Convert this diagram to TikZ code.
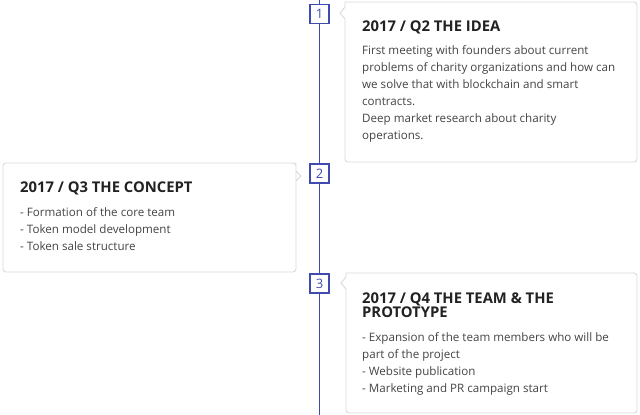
\documentclass[tikz,border=0pt]{standalone}
\usepackage{fontspec}
\setmainfont{Open Sans}
\definecolor{tlblue}{HTML}{3F4BAE}
\definecolor{cardgray}{HTML}{DADADA}
\definecolor{titlec}{HTML}{222222}
\definecolor{bodyc}{HTML}{444444}
\tikzset{
  numbox/.style={draw=tlblue, line width=1.6pt, fill=white, minimum width=19pt, minimum height=19pt, inner sep=0pt, text=tlblue, font=\fontsize{13}{13}\selectfont},
  cardline/.style={draw=cardgray, line width=0.9pt, fill=white},
  titletext/.style={anchor=base west, inner sep=0pt, text=titlec, align=left, font=\fontsize{14.8}{14}\selectfont\bfseries},
  bodytext/.style={anchor=base west, inner sep=0pt, text=bodyc, align=left, font=\fontsize{11.6}{17}\selectfont},
}
\begin{document}
\begin{tikzpicture}[x=1pt,y=-1pt]
\useasboundingbox (0,0) rectangle (640,415);
% cards
\draw[cardline] (345,2) [rounded corners=3pt] -- (637,2) -- (637,162) -- (345,162) [sharp corners] -- (345,19) -- (340,13) -- (345,7) -- cycle;
\draw[cardline] (296,163) [rounded corners=3pt] -- (296,272) -- (3,272) -- (3,163) -- (296,163) [sharp corners] -- (296,171) -- (301,176) -- (296,181) -- cycle;
\draw[cardline] (346,273) [rounded corners=3pt] -- (637,273) -- (637,413) -- (346,413) [sharp corners] -- (346,289) -- (341,283) -- (346,277) -- cycle;
% timeline
\coordinate (ltop) at (319.5,0);
\coordinate (lbot) at (319.5,415);
\draw[tlblue, line width=1.8pt] (ltop) -- (lbot);
\node[numbox] (n1) at (319.5,14) {1};
\node[numbox] (n2) at (319.5,173.5) {2};
\node[numbox] (n3) at (319.5,283.5) {3};
% texts (anchor = baseline of last line)
\node[titletext] (t1) at (362,31.5) {2017 / Q2 THE IDEA};
\node[bodytext] (b1) at (362,139.5) {First meeting with founders about current\\problems of charity organizations and how can\\we solve that with blockchain and smart\\contracts.\\Deep market research about charity\\operations.};
\node[titletext] (t2) at (20,192.5) {2017 / Q3 THE CONCEPT};
\node[bodytext] (b2) at (20,250.5) {- Formation of the core team\\- Token model development\\- Token sale structure};
\node[titletext] (t3) at (362,317) {2017 / Q4 THE TEAM \& THE\\PROTOTYPE};
\node[bodytext] (b3) at (362,392.5) {- Expansion of the team members who will be\\part of the project\\- Website publication\\- Marketing and PR campaign start};
\end{tikzpicture}
\end{document}
